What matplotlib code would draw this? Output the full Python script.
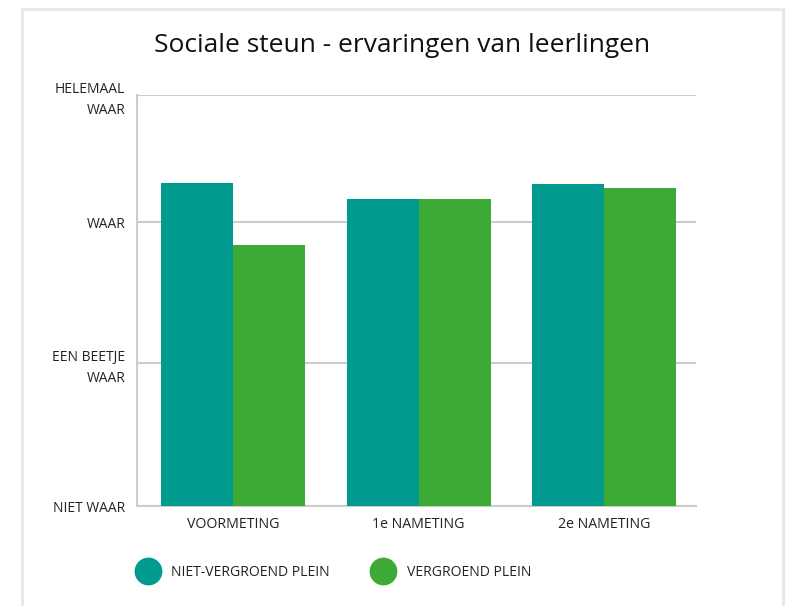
import numpy as np
import matplotlib.pyplot as plt
from matplotlib.patches import Rectangle
from matplotlib.lines import Line2D

# data (schaal 1 = niet waar ... 4 = helemaal waar)
metingen = ['VOORMETING', '1e NAMETING', '2e NAMETING']
niet_vergroend = [3.31, 3.18, 3.30]
vergroend = [2.84, 3.18, 3.27]
schaal = [1, 2, 3, 4]
schaal_labels = ['NIET WAAR', 'EEN BEETJE\nWAAR', 'WAAR', 'HELEMAAL\nWAAR']

teal = '#009a8f'
groen = '#3daa35'
grijs = '#cccccc'
tekst = '#222222'

plt.rcParams['font.family'] = ['Open Sans', 'DejaVu Sans']

# gridlines in the original are not evenly spaced
pos = [0, 143, 284, 411]
def fwd(v):
    return np.interp(v, schaal, pos)
def inv(p):
    return np.interp(p, pos, schaal)

fig = plt.figure(figsize=(7.87, 6.06), dpi=100)
fig.patches.append(Rectangle((22/787, -0.1), (783-22)/787, 1.1 - 9/606,
                             transform=fig.transFigure, fill=False,
                             edgecolor='#e6e6ec', linewidth=2))

ax = fig.add_axes([137/787, 100/606, 559/787, 411/606])
ax.set_yscale('function', functions=(fwd, inv))

x = np.arange(len(metingen))
w = 0.388
ax.bar(x - w/2, np.array(niet_vergroend) - 1, w, bottom=1, color=teal, zorder=3)
ax.bar(x + w/2, np.array(vergroend) - 1, w, bottom=1, color=groen, zorder=3)

ax.set_ylim(1, 4)
ax.set_xlim(-0.518, 2.496)
ax.set_yticks(schaal)
ax.set_yticklabels(schaal_labels, fontsize=10, color=tekst, linespacing=1.5)
ax.set_xticks(x)
ax.set_xticklabels(metingen, fontsize=10.2, color=tekst)
ax.tick_params(length=0)
ax.tick_params(axis='y', pad=8.5)
ax.tick_params(axis='x', pad=8)
ax.minorticks_off()
ax.yaxis.grid(True, color=grijs, linewidth=1.5, zorder=0)

for s in ['top', 'right']:
    ax.spines[s].set_visible(False)
for s in ['left', 'bottom']:
    ax.spines[s].set_color(grijs)
    ax.spines[s].set_linewidth(1.5)

fig.text(402/787, 1 - 45/606, 'Sociale steun - ervaringen van leerlingen',
         ha='center', va='center', fontsize=19, color='#111111')

fig.text(171/787, 1 - 572/606, 'NIET-VERGROEND PLEIN', ha='left', va='center',
         fontsize=10.1, color=tekst)
fig.text(407/787, 1 - 572/606, 'VERGROEND PLEIN', ha='left', va='center',
         fontsize=10.1, color=tekst)
fig.lines.append(Line2D([148/787], [1 - 571/606], marker='o', markersize=19,
                        color=teal, transform=fig.transFigure))
fig.lines.append(Line2D([383/787], [1 - 571/606], marker='o', markersize=19,
                        color=groen, transform=fig.transFigure))

fig.savefig('out.png', dpi=100)
